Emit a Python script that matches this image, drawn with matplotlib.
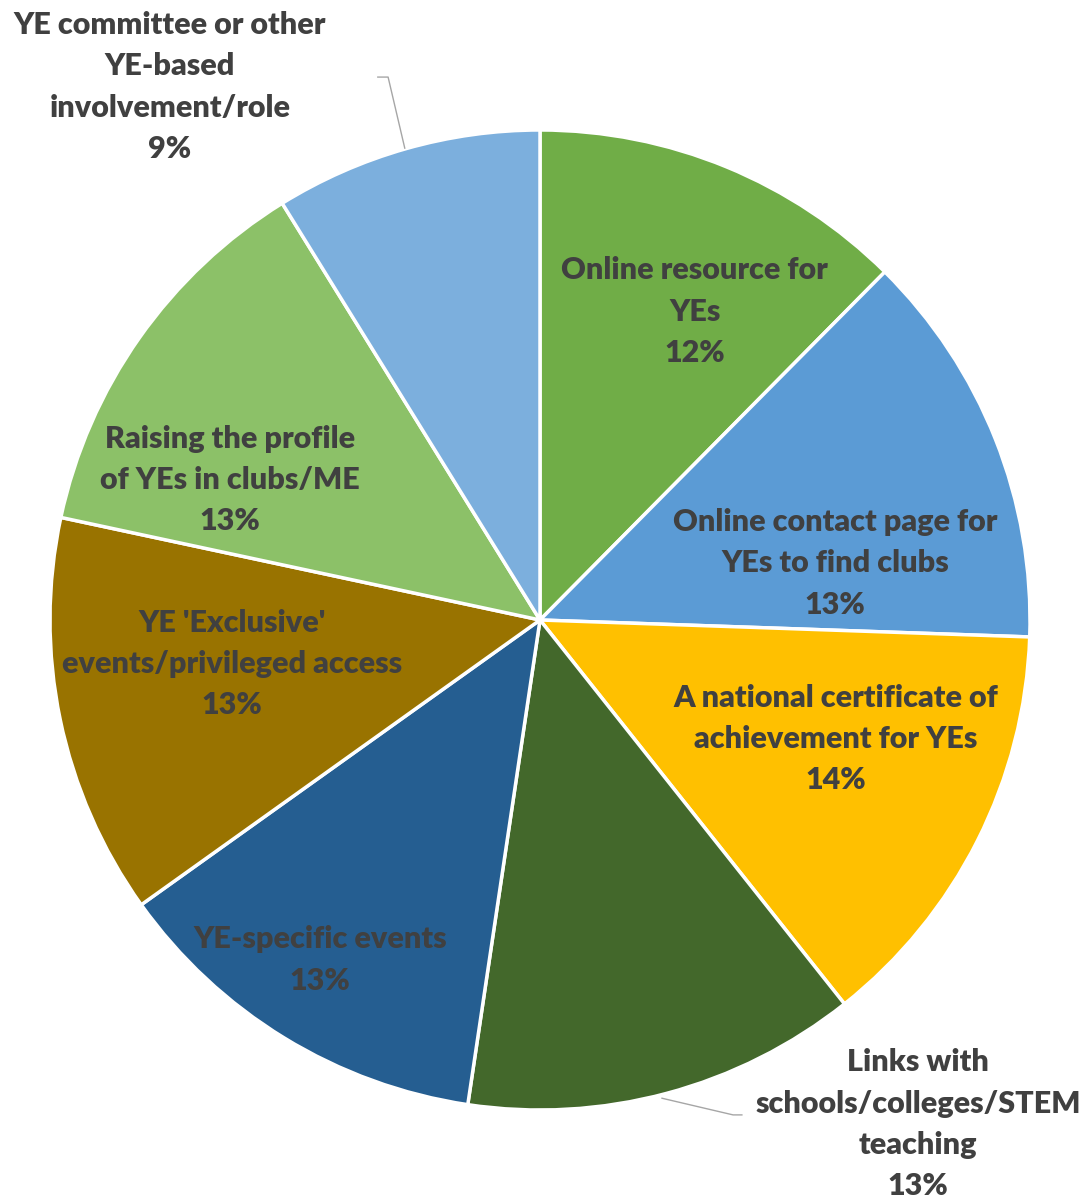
import matplotlib.pyplot as plt
import numpy as np

# Slices, clockwise from 12 o'clock
labels = [
    "Online resource for\nYEs",
    "Online contact page for\nYEs to find clubs",
    "A national certificate of\nachievement for YEs",
    "Links with\nschools/colleges/STEM\nteaching",
    "YE-specific events",
    "YE 'Exclusive'\nevents/privileged access",
    "Raising the profile\nof YEs in clubs/ME",
    "YE committee or other\nYE-based\ninvolvement/role",
]
values = [12.4, 13.1, 13.75, 13.0, 12.75, 13.2, 12.8, 8.8]
colors = ["#70AD47", "#5B9BD5", "#FFC000", "#43682B",
          "#255E91", "#997300", "#8CC168", "#7CAFDD"]

# label centres in radius units (layout only)
label_pos = [(0.316, 0.629), (0.602, 0.116), (0.604, -0.243), (0.771, -1.029),
             (-0.449, -0.694), (-0.629, -0.090), (-0.633, 0.286), (-0.755, 1.088)]

fig = plt.figure(figsize=(10.87, 12), dpi=100)
ax = fig.add_axes([0, 0, 1, 1])

ax.pie(values, colors=colors, startangle=90, counterclock=False,
       wedgeprops=dict(edgecolor="white", linewidth=2.5))

total = sum(values)
for lab, v, (x, y) in zip(labels, values, label_pos):
    pct = f"{round(v / total * 100):.0f}%"
    ax.text(x, y, lab + "\n" + pct, ha="center", va="center",
            fontsize=22, fontweight="heavy", color="#404040",
            family="Lato", linespacing=1.58)

# leader lines for the two outside labels
ax.plot([-0.276, -0.310, -0.331], [0.963, 1.108, 1.108], color="#A6A6A6", lw=1)
ax.plot([0.249, 0.394, 0.412], [-0.976, -1.010, -1.010], color="#A6A6A6", lw=1)

ax.set_xlim(-540 / 490, 547 / 490)
ax.set_ylim(-580 / 490, 620 / 490)
ax.set_aspect("equal")
ax.axis("off")

fig.savefig("out.png", dpi=100)
